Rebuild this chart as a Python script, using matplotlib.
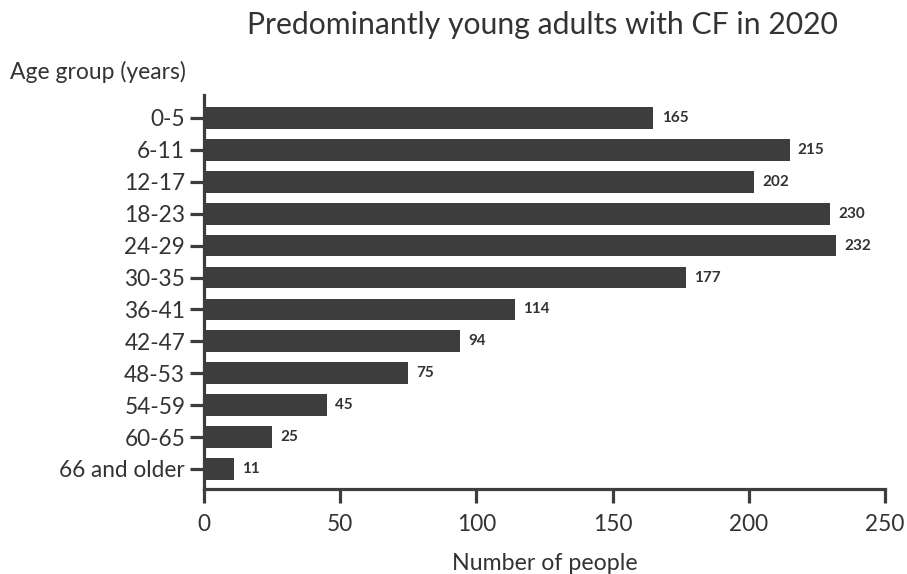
import matplotlib.pyplot as plt
import numpy as np

plt.rcParams['font.family'] = ['Lato', 'DejaVu Sans']

age_groups = ["0-5", "6-11", "12-17", "18-23", "24-29", "30-35", "36-41",
              "42-47", "48-53", "54-59", "60-65", "66 and older"]
people = [165, 215, 202, 230, 232, 177, 114, 94, 75, 45, 25, 11]

dark = "#3d3d3d"
text_col = "#333333"

fig = plt.figure(figsize=(9.07, 5.74), dpi=100)
ax = fig.add_axes([0.2249, 0.148, 0.7508, 0.6865])

y = np.arange(len(age_groups))
ax.barh(y, people, height=0.68, color=dark)

# value labels next to each bar
for yi, v in zip(y, people):
    ax.text(v + 3, yi, str(v), va='center', ha='left', fontsize=11,
            fontweight='bold', color=text_col)

ax.set_xlim(0, 250)
ax.set_ylim(11.63, -0.72)
ax.set_yticks(y)
ax.set_yticklabels(age_groups)
ax.set_xticks([0, 50, 100, 150, 200, 250])

for s in ['top', 'right']:
    ax.spines[s].set_visible(False)
for s in ['left', 'bottom']:
    ax.spines[s].set_linewidth(2.3)
    ax.spines[s].set_color(dark)

ax.tick_params(axis='both', width=2.3, length=10, color=dark,
               labelsize=16.3, labelcolor=text_col)
ax.tick_params(axis='y', pad=3.5)
ax.tick_params(axis='x', pad=8)

ax.set_xlabel("Number of people", fontsize=16.7, color=text_col, labelpad=13)
fig.text(0.011, 0.875, "Age group (years)", fontsize=16.5, color=text_col,
         ha='left', va='center')
fig.text(0.598, 0.956, "Predominantly young adults with CF in 2020",
         fontsize=21.7, color=text_col, ha='center', va='center')

fig.savefig("out.png", dpi=100)
